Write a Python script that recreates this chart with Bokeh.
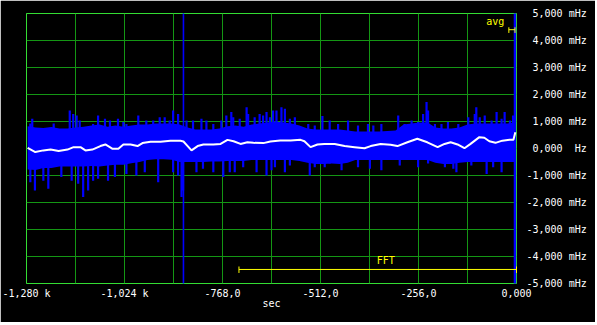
from bokeh.plotting import figure
from bokeh.models import Range1d, FixedTicker
from bokeh.core.properties import value
from bokeh.embed import file_html
from bokeh.resources import INLINE

# ---- data (time in sec, values in mHz) ----
avg_t = [-1277, -1257, -1236, -1217, -1196, -1173, -1157, -1139, -1126, -1108,
         -1087, -1074, -1055, -1040, -1027, -1008, -990, -977, -956, -930,
         -904, -878, -870, -859, -849, -833, -818, -792, -773, -755,
         -739, -721, -703, -687, -661, -643, -617, -590, -564, -554,
         -538, -520, -502, -475, -449, -423, -397, -381, -355, -329,
         -311, -285, -259, -233, -206, -188, -172, -154, -136, -120,
         -97, -84, -71, -55, -37, -18, -8, -3]
avg_v = [0.02, -0.13, -0.07, -0.04, -0.09, -0.04, 0.05, 0.05, -0.07, -0.04,
         0.09, 0.15, -0.01, -0.01, 0.15, 0.15, 0.09, 0.20, 0.25, 0.25,
         0.29, 0.29, 0.26, 0.09, -0.07, 0.09, 0.15, 0.15, 0.17, 0.32,
         0.27, 0.17, 0.23, 0.21, 0.20, 0.26, 0.30, 0.30, 0.32, 0.27,
         0.05, 0.15, 0.17, 0.17, 0.09, 0.05, 0.01, 0.09, 0.17, 0.14,
         0.09, 0.23, 0.36, 0.23, 0.05, 0.17, 0.23, 0.15, 0.01, 0.17,
         0.42, 0.40, 0.27, 0.21, 0.29, 0.32, 0.32, 0.60]

band_t = [-1277, -1256, -1236, -1215, -1194, -1173, -1152, -1131, -1110, -1089,
          -1068, -1048, -1027, -1006, -985, -964, -943, -922, -901, -880,
          -859, -839, -818, -797, -776, -755, -734, -713, -692, -671,
          -650, -630, -609, -588, -567, -546, -525, -504, -483, -462,
          -441, -421, -400, -379, -358, -337, -316, -295, -274, -253,
          -232, -212, -191, -170, -149, -128, -107, -86, -65, -44,
          -23, -5]
band_top = [0.82, 0.78, 0.76, 0.80, 0.74, 0.74, 0.78, 0.81, 0.85, 0.89,
            0.81, 0.85, 0.81, 0.85, 0.89, 0.89, 0.93, 0.93, 0.93, 0.89,
            0.78, 0.70, 0.70, 0.70, 0.74, 0.82, 0.85, 0.81, 0.89, 0.93,
            0.96, 1.00, 0.96, 0.93, 0.85, 0.74, 0.70, 0.70, 0.70, 0.70,
            0.67, 0.63, 0.63, 0.63, 0.63, 0.65, 0.67, 0.89, 0.93, 0.96,
            0.96, 0.78, 0.74, 0.74, 0.78, 0.89, 0.93, 0.93, 0.93, 0.93,
            0.93, 0.96]
band_bot = [-0.78, -0.80, -0.72, -0.72, -0.67, -0.67, -0.67, -0.67, -0.65, -0.67,
            -0.63, -0.60, -0.60, -0.55, -0.50, -0.43, -0.40, -0.40, -0.42, -0.50,
            -0.50, -0.50, -0.50, -0.48, -0.48, -0.46, -0.46, -0.46, -0.43, -0.43,
            -0.43, -0.43, -0.43, -0.43, -0.46, -0.53, -0.57, -0.57, -0.56, -0.57,
            -0.53, -0.43, -0.43, -0.43, -0.43, -0.43, -0.43, -0.43, -0.43, -0.43,
            -0.43, -0.53, -0.57, -0.57, -0.53, -0.50, -0.50, -0.50, -0.50, -0.50,
            -0.50, -0.50]

up_spike_t = [-1270, -1265, -1209, -1167, -1158, -1149, -1141, -1106, -1093, -1075,
              -1062, -1041, -1027, -1019, -988, -967, -949, -932, -919, -906,
              -897, -884, -862, -845, -823, -810, -792, -771, -758, -745,
              -740, -723, -705, -701, -684, -671, -662, -653, -644, -636,
              -627, -614, -605, -592, -579, -544, -527, -507, -488, -466,
              -440, -414, -388, -374, -353, -309, -292, -274, -257, -244,
              -235, -231, -213, -196, -179, -152, -126, -109, -105, -96,
              -83, -65, -52, -39, -31, -17, -9]
up_spike_v = [0.93, 1.10, 0.93, 1.41, 1.28, 1.22, 1.04, 0.91, 1.22, 1.10,
              1.04, 1.10, 0.98, 0.91, 1.22, 1.04, 1.04, 1.16, 1.16, 1.04,
              1.41, 1.28, 1.04, 1.04, 1.10, 1.04, 0.91, 1.04, 1.22, 1.35,
              1.16, 1.10, 1.53, 1.28, 1.16, 1.28, 1.22, 1.35, 1.16, 1.41,
              1.41, 1.53, 1.47, 1.10, 1.16, 0.91, 0.85, 1.20, 1.04, 0.91,
              1.04, 0.85, 0.91, 0.85, 0.91, 1.22, 0.91, 1.04, 0.98, 1.28,
              1.72, 1.41, 0.91, 0.91, 0.98, 0.91, 1.16, 1.28, 1.53, 1.16,
              1.22, 1.04, 1.35, 1.10, 1.35, 1.04, 1.22]

down_spike_t = [-1270, -1258, -1236, -1223, -1189, -1162, -1145, -1132, -1119, -1106,
                -1093, -1067, -1049, -1019, -993, -971, -936, -897, -884, -875,
                -871, -836, -819, -792, -766, -749, -736, -714, -679, -653,
                -640, -631, -605, -592, -540, -527, -501, -488, -457, -414,
                -383, -353, -305, -257, -231, -187, -165, -157, -118, -78,
                -61, -39]
down_spike_v = [-1.25, -1.56, -1.19, -1.49, -1.06, -1.19, -1.31, -1.80, -1.56, -1.19,
                -1.12, -1.19, -1.06, -0.94, -1.00, -0.88, -1.25, -0.88, -1.00, -1.80,
                -1.56, -0.88, -0.75, -0.88, -1.06, -0.88, -0.88, -0.69, -0.88, -1.00,
                -0.81, -0.69, -0.88, -0.63, -1.00, -0.69, -0.69, -0.56, -0.81, -0.69,
                -0.75, -0.81, -0.63, -0.69, -0.56, -0.69, -0.75, -0.88, -0.63, -0.94,
                -0.69, -0.88]

full_spike_t = [-870, -4]

fft_window = [-725, 0]
avg_window = [-20, -4]

x_ticks = [-1280, -1024, -768, -512, -256, 0]
x_labels = ["-1,280 k", "-1,024 k", "-768,0", "-512,0", "-256,0", "0,000"]
x_grid = [-1280, -1152, -1024, -896, -768, -640, -512, -384, -256, -128, 0]
y_ticks = [-5, -4, -3, -2, -1, 0, 1, 2, 3, 4, 5]
y_labels = ["-5,000 mHz", "-4,000 mHz", "-3,000 mHz", "-2,000 mHz", "-1,000 mHz",
            "\u00a00,000\u00a0\u00a0Hz", "\u00a01,000 mHz", "\u00a02,000 mHz",
            "\u00a03,000 mHz", "\u00a04,000 mHz", "\u00a05,000 mHz"]

FONT = "DejaVu Sans Mono"
BLUE = "#0000ff"
YELLOW = "#ffff00"

p = figure(frame_width=490, frame_height=270,
           x_range=Range1d(-1280, 0), y_range=Range1d(-5, 5),
           output_backend="svg", toolbar_location=None,
           background_fill_color="black", border_fill_color="black",
           outline_line_color="#33dd33", outline_line_width=1,
           min_border_left=26, min_border_top=13, min_border_right=79, min_border_bottom=39,
           y_axis_location="right", x_axis_label="sec")

for ax in (p.xaxis[0], p.yaxis[0]):
    ax.axis_line_color = None
    ax.major_tick_line_color = None
    ax.minor_tick_line_color = None
    ax.major_tick_in = 0
    ax.major_tick_out = 0
    ax.major_label_text_color = "white"
    ax.major_label_text_font = FONT
    ax.major_label_text_font_size = "10px"

p.xaxis.ticker = FixedTicker(ticks=x_ticks)
p.xaxis.major_label_overrides = dict(zip(x_ticks, x_labels))
p.xaxis.major_label_standoff = 4
p.xaxis.axis_label_text_color = "white"
p.xaxis.axis_label_text_font = FONT
p.xaxis.axis_label_text_font_size = "10px"
p.xaxis.axis_label_text_font_style = "normal"
p.xaxis.axis_label_standoff = -4

p.yaxis.ticker = FixedTicker(ticks=y_ticks)
p.yaxis.major_label_overrides = dict(zip(y_ticks, y_labels))
p.yaxis.major_label_standoff = 10

p.xgrid.ticker = FixedTicker(ticks=x_grid)
p.ygrid.ticker = FixedTicker(ticks=y_ticks)
for g in (p.xgrid[0], p.ygrid[0]):
    g.grid_line_color = "#149614"
    g.grid_line_width = 1

# noisy trace: dense band + spikes
p.varea(x=band_t, y1=band_bot, y2=band_top, fill_color=BLUE)
p.segment(x0=up_spike_t, y0=[0] * len(up_spike_t), x1=up_spike_t, y1=up_spike_v,
          line_color=BLUE, line_width=2.2)
p.segment(x0=down_spike_t, y0=[0] * len(down_spike_t), x1=down_spike_t, y1=down_spike_v,
          line_color=BLUE, line_width=2.2)
p.segment(x0=full_spike_t[:1], y0=[-6], x1=full_spike_t[:1], y1=[6], line_color=BLUE, line_width=1.6)
p.segment(x0=full_spike_t[1:], y0=[-6], x1=full_spike_t[1:], y1=[6], line_color=BLUE, line_width=2.5)

# averaged trace
avg_r = p.line(avg_t, avg_v, line_color="white", line_width=2)
avg_r.level = "annotation"

# yellow markers
r = p.segment(x0=[avg_window[0], avg_window[0], avg_window[1]],
              y0=[4.40, 4.49, 4.49],
              x1=[avg_window[1], avg_window[0], avg_window[1]],
              y1=[4.40, 4.28, 4.28], line_color=YELLOW, line_width=1)
r.level = "annotation"
r = p.segment(x0=[fft_window[0], fft_window[0], fft_window[1]],
              y0=[-4.48, -4.37, -4.37],
              x1=[fft_window[1], fft_window[0], fft_window[1]],
              y1=[-4.48, -4.61, -4.61], line_color=YELLOW, line_width=1)
r.level = "annotation"
r = p.text(x=[-79, -365], y=[4.69, -4.13], text=["avg", "FFT"], text_color=YELLOW,
           text_font=value(FONT), text_font_size="10px",
           text_align="left", text_baseline="middle")
r.level = "annotation"

open("out.html", "w").write(file_html(p, INLINE))
